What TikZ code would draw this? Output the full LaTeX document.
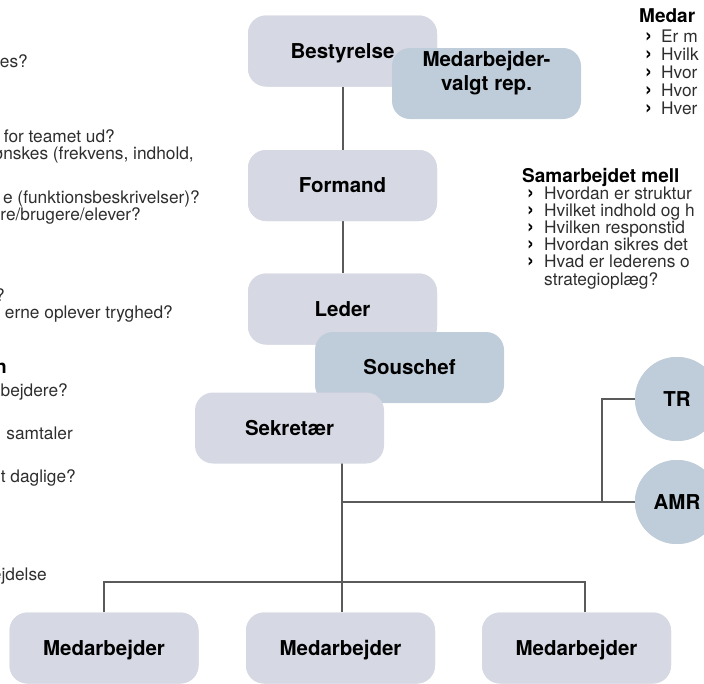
\documentclass[tikz,border=0pt]{standalone}
\usepackage{fontspec}
\setmainfont{TeX Gyre Heros}
\definecolor{boxgray}{HTML}{D6D9E3}
\definecolor{boxblue}{HTML}{BFCCD9}
\definecolor{linegray}{HTML}{5A5A5A}
\definecolor{textgray}{HTML}{2E2E2E}

\begin{document}
\begin{tikzpicture}[x=1pt,y=-1pt,
    box/.style={fill=boxgray, rounded corners=18pt, minimum width=189pt, minimum height=71pt,
      inner sep=0pt, align=center, text height=14.7pt, text depth=0pt,
      font=\fontsize{20.5}{24}\selectfont\bfseries},
    repbox/.style={box, fill=boxblue},
    ring/.style={circle, fill=boxblue, minimum size=84pt, inner sep=0pt, text height=14.7pt, text depth=0pt,
      font=\fontsize{20.5}{24}\selectfont\bfseries},
    link/.style={draw=linegray, line width=2pt},
    txt/.style={inner sep=0pt, text=textgray, font=\fontsize{17.3}{16.7}\selectfont},
    head/.style={inner sep=0pt, font=\fontsize{19}{22}\selectfont\bfseries},
    bul/.style={inner sep=0pt, text height=9pt, text depth=0pt, font=\fontsize{21}{22}\selectfont\bfseries}]
    \useasboundingbox (0,0) rectangle (704,683);

    % left column, cut off at the edge
    \foreach \y/\x/\t in {67/28/{es?}, 142/115/{for teamet ud?}, 159/194/{ønskes (frekvens, indhold,},
        203/200/{e (funktionsbeskrivelser)?}, 220/141/{re/brugere/elever?}, 301/5/{?},
        318/173/{erne oplever tryghed?}, 396/68/{bejdere?}, 439/73/{samtaler},
        482/76/{t daglige?}, 580/47/{ejdelse}}
      \node [txt, anchor=base east] at (\x,\y) {\t};
    \node [head, anchor=base east] (H0) at (7,373) {n};

    % right column, cut off at the edge
    \node [head, anchor=base west] (H1) at (639,22) {Medar};
    \foreach \y/\t in {42/Er m, 60/Hvilk, 78/Hvor, 96/Hvor, 114/Hver} {
      \node [bul, anchor=base west] at (645,\y) {›};
      \node [txt, anchor=base west] at (661,\y) {\t};
    }
    \node [head, anchor=base west] (H2) at (522,182) {Samarbejdet mell};
    \foreach \y/\t in {199/Hvordan er struktur, 216/Hvilket indhold og h, 233/Hvilken responstid,
        250/Hvordan sikres det, 267/Hvad er lederens o} {
      \node [bul, anchor=base west] at (527,\y) {›};
      \node [txt, anchor=base west] at (544,\y) {\t};
    }
    \node [txt, anchor=base west] at (544,285) {strategioplæg?};

    % lines behind the boxes
    \coordinate (hub) at (342,582);
    \coordinate (fork) at (602,502);
    \node [box] (best) at (342.5,51) {Bestyrelse};
    \node [box] (form) at (342.5,185.5) {Formand};
    \node [box] (lead) at (342.5,309) {Leder};
    \node [box] (m1) at (104,648) {Medarbejder};
    \node [box] (m2) at (340.5,648) {Medarbejder};
    \node [box] (m3) at (576.5,648) {Medarbejder};
    \node [ring] (tr) at (677,399) {TR};
    \node [ring] (amr) at (677,502) {AMR};
    \draw [link] (best) -- (form);
    \draw [link] (form) -- (lead);
    \draw [link] (lead.south -| hub) -- (hub);
    \draw [link] (hub |- fork) -- (fork);
    \draw [link] (tr.west) -| (fork) -- (amr.west);
    \draw [link] (m1.north) |- (hub);
    \draw [link] (m2.north -| hub) -- (hub);
    \draw [link] ([xshift=8.5pt]m3.north) |- (hub);

    % boxes on top
    \node [box] at (best) {Bestyrelse};
    \node [repbox] (rep) at (486.5,83.5) {Medarbejder-\\valgt rep.};
    \node [box] at (form) {Formand};
    \node [box] at (lead) {Leder};
    \node [repbox] (sous) at (409.5,367.5) {Souschef};
    \node [box] (sek) at (289.5,428) {Sekretær};
    \node [box] at (m1) {Medarbejder};
    \node [box] at (m2) {Medarbejder};
    \node [box] at (m3) {Medarbejder};
    \node [ring] at (tr) {TR};
    \node [ring] at (amr) {AMR};
\end{tikzpicture}
\end{document}
